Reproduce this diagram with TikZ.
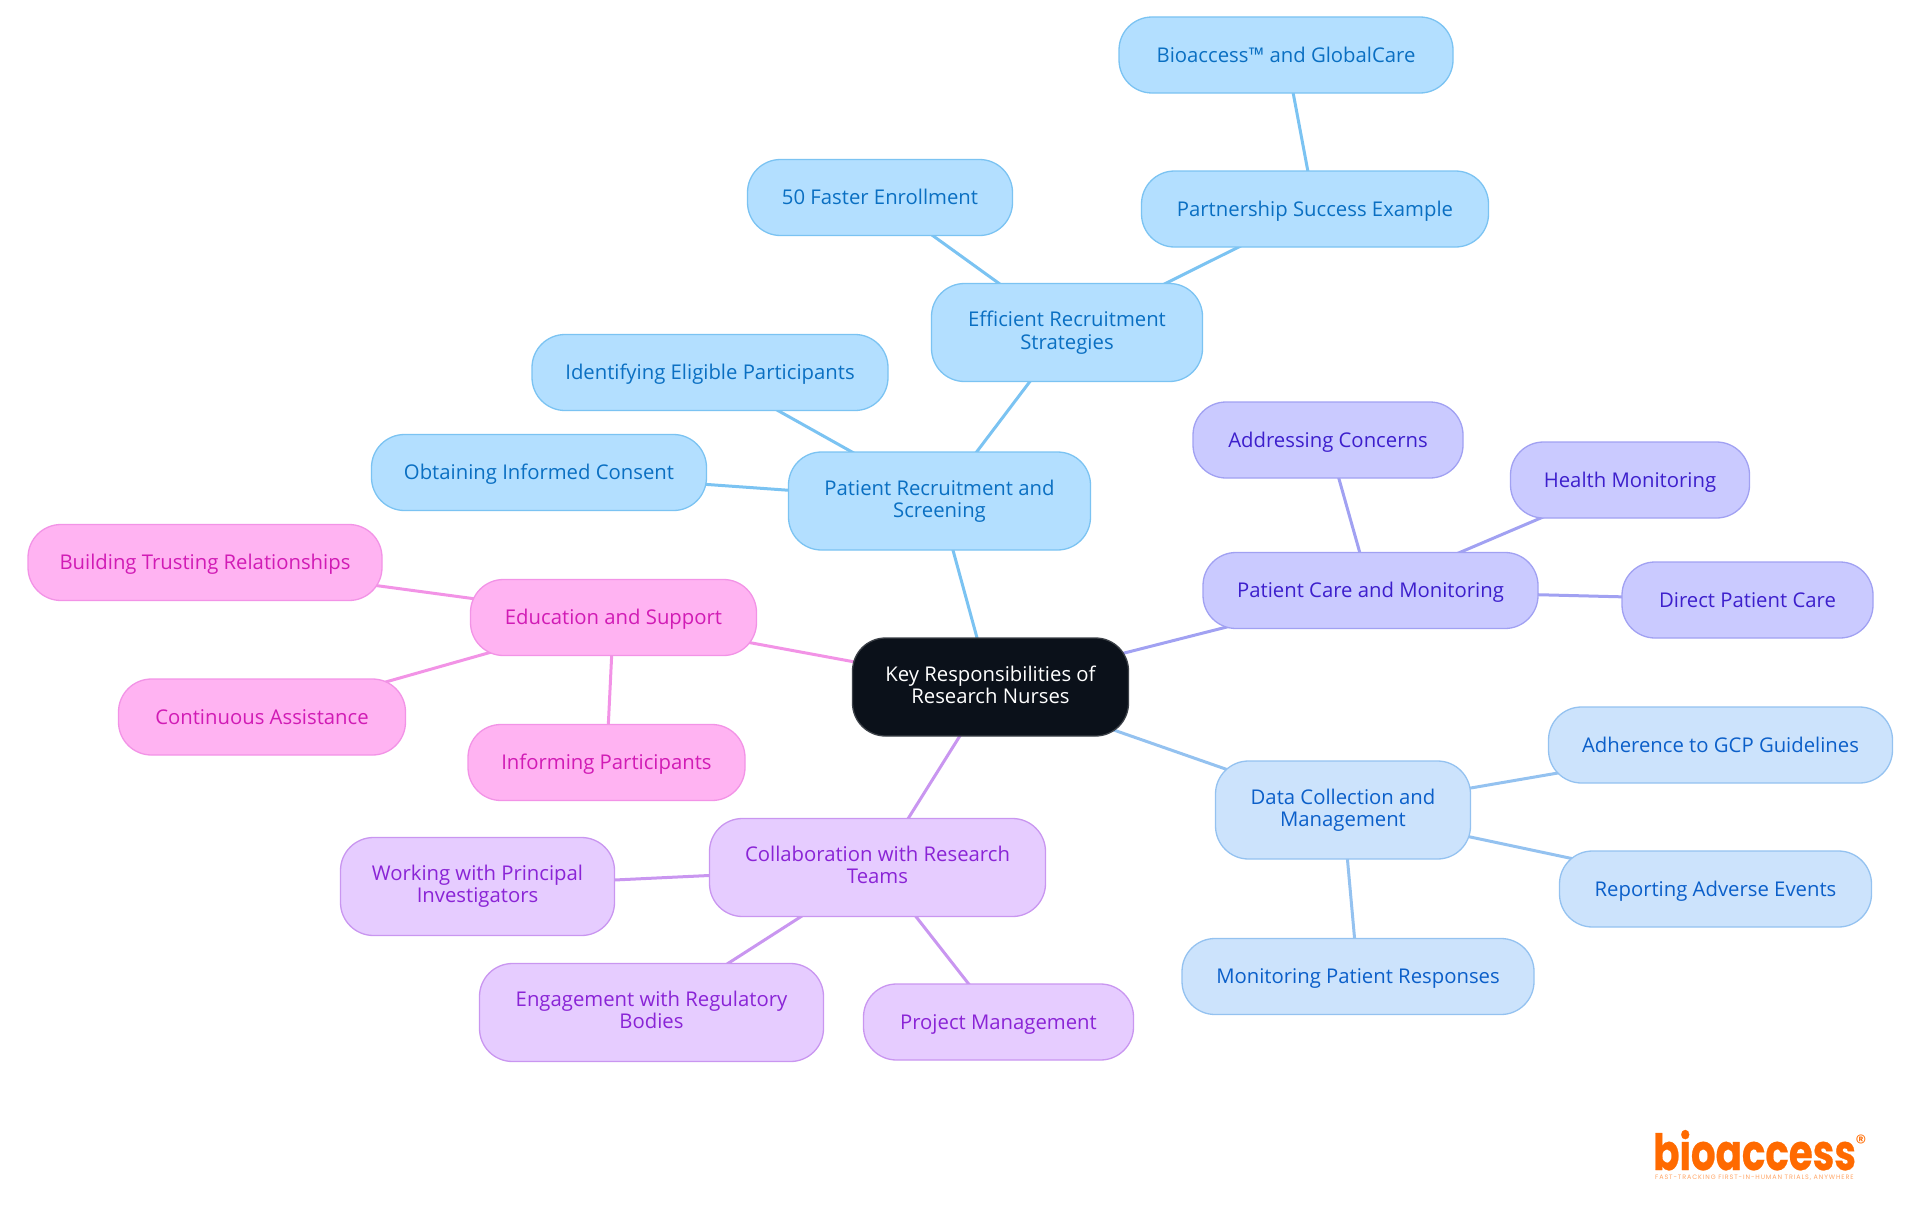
\documentclass[tikz,border=0pt]{standalone}
\usepackage{fontspec}
\setmainfont{Open Sans}
\newfontfamily\logofont[FakeStretch=0.775,FakeBold=0.5]{Poppins}
\newfontfamily\markfont{Poppins}
\newfontfamily\tagfont[LetterSpace=14]{Poppins}
\usetikzlibrary{backgrounds}
\definecolor{skyfill}{HTML}{B3DFFF}
\definecolor{skyline}{HTML}{7BC3F2}
\definecolor{skytext}{HTML}{0A6FC2}
\definecolor{indfill}{HTML}{CACAFF}
\definecolor{indline}{HTML}{A1A1F2}
\definecolor{indtext}{HTML}{3D1FCC}
\definecolor{palefill}{HTML}{CCE3FC}
\definecolor{paleline}{HTML}{94C2F0}
\definecolor{paletext}{HTML}{0B5FC9}
\definecolor{pinkfill}{HTML}{FFB3F2}
\definecolor{pinkline}{HTML}{F293E6}
\definecolor{pinktext}{HTML}{D11BB5}
\definecolor{violfill}{HTML}{E6CCFF}
\definecolor{violline}{HTML}{C996F0}
\definecolor{violtext}{HTML}{8A24D6}
\definecolor{rootfill}{HTML}{0B111A}
\definecolor{logoorange}{HTML}{FF6A00}
\tikzset{
  mapnode/.style={draw,rounded corners=33pt,line width=1.3pt,align=center,inner sep=0pt,
    minimum height=76pt,font=\fontsize{20.3}{22.4}\selectfont,
    execute at begin node={\rule{0pt}{19pt}},execute at end node={\vphantom{Ag}}},
  twoline/.style={minimum height=98pt,execute at begin node={\rule{0pt}{21.4pt}}},
  rootnode/.style={mapnode,fill=rootfill,draw=rootfill!80!white,text=white},
  skynode/.style={mapnode,fill=skyfill,draw=skyline,text=skytext},
  indnode/.style={mapnode,fill=indfill,draw=indline,text=indtext},
  palenode/.style={mapnode,fill=palefill,draw=paleline,text=paletext},
  pinknode/.style={mapnode,fill=pinkfill,draw=pinkline,text=pinktext},
  violnode/.style={mapnode,fill=violfill,draw=violline,text=violtext},
  skyedge/.style={draw=skyline,line width=3pt},
  indedge/.style={draw=indline,line width=3pt},
  paleedge/.style={draw=paleline,line width=3pt},
  pinkedge/.style={draw=pinkline,line width=3pt},
  violedge/.style={draw=violline,line width=3pt}
}
\begin{document}
\begin{tikzpicture}[x=1pt,y=-1pt]
\useasboundingbox (0,0) rectangle (1920,1215);

\node[rootnode,twoline,minimum width=276pt] (root) at (990.5,687) {Key Responsibilities of\\Research Nurses};

\node[skynode,twoline,minimum width=302pt] (recruit) at (939.5,501) {Patient Recruitment and\\Screening};
\node[skynode,twoline,minimum width=271pt] (strategies) at (1067,332.5) {Efficient Recruitment\\Strategies};
\node[skynode,minimum width=347pt] (partnership) at (1315,209) {Partnership Success Example};
\node[skynode,minimum width=334pt] (globalcare) at (1286,55) {Bioaccess™ and GlobalCare};
\node[skynode,minimum width=265pt] (faster) at (880,197.5) {50 Faster Enrollment};
\node[skynode,minimum width=356pt] (eligible) at (710,372.5) {Identifying Eligible Participants};
\node[skynode,minimum width=335pt] (consent) at (539,472.5) {Obtaining Informed Consent};

\node[indnode,minimum width=335pt] (care) at (1370.5,590.5) {Patient Care and Monitoring};
\node[indnode,minimum width=270pt] (concerns) at (1328,440) {Addressing Concerns};
\node[indnode,minimum width=239pt] (health) at (1630,480) {Health Monitoring};
\node[indnode,minimum width=251pt] (direct) at (1747.5,600) {Direct Patient Care};

\node[palenode,twoline,minimum width=255pt] (data) at (1343,810) {Data Collection and\\Management};
\node[palenode,minimum width=344pt] (gcp) at (1720.5,745) {Adherence to GCP Guidelines};
\node[palenode,minimum width=312pt] (adverse) at (1715.5,889) {Reporting Adverse Events};
\node[palenode,minimum width=352pt] (responses) at (1358,976.5) {Monitoring Patient Responses};

\node[pinknode,minimum width=286pt] (education) at (613.5,617.5) {Education and Support};
\node[pinknode,minimum width=354pt] (trusting) at (205,562.5) {Building Trusting Relationships};
\node[pinknode,minimum width=287pt] (assistance) at (262,717) {Continuous Assistance};
\node[pinknode,minimum width=277pt] (informing) at (606.5,762.5) {Informing Participants};

\node[violnode,twoline,minimum width=336pt] (teams) at (877.5,867.5) {Collaboration with Research\\Teams};
\node[violnode,twoline,minimum width=274pt] (investigators) at (477.5,886.5) {Working with Principal\\Investigators};
\node[violnode,twoline,minimum width=344pt] (regulatory) at (651.5,1012.5) {Engagement with Regulatory\\Bodies};
\node[violnode,minimum width=270pt] (project) at (998.5,1022) {Project Management};

% logo
\node[text=logoorange,inner sep=0pt,anchor=base west,font=\logofont\bfseries\fontsize{50}{50}\selectfont] (logo) at (1653,1170) {bioaccess};
\node[text=logoorange,inner sep=0pt,font=\markfont\fontsize{22}{22}\selectfont] (registered) at (1861,1143) {®};
\node[text=logoorange!60,inner sep=0pt,anchor=base west,font=\tagfont\fontsize{6.4}{7}\selectfont] (tagline) at (1655,1179) {FAST-TRACKING FIRST-IN-HUMAN TRIALS, ANYWHERE};

\begin{scope}[on background layer]
\path[skyedge] (root.center) -- (recruit.center);
\path[skyedge] (recruit.center) -- (strategies.center);
\path[skyedge] (recruit.center) -- (eligible.center);
\path[skyedge] (recruit.center) -- (consent.center);
\path[skyedge] (strategies.center) -- (partnership.center);
\path[skyedge] (strategies.center) -- (faster.center);
\path[skyedge] (partnership.center) -- (globalcare.center);
\path[indedge] (root.center) -- (care.center);
\path[indedge] (care.center) -- (concerns.center);
\path[indedge] (care.center) -- (health.center);
\path[indedge] (care.center) -- (direct.center);
\path[paleedge] (root.center) -- (data.center);
\path[paleedge] (data.center) -- (gcp.center);
\path[paleedge] (data.center) -- (adverse.center);
\path[paleedge] (data.center) -- (responses.center);
\path[pinkedge] (root.center) -- (education.center);
\path[pinkedge] (education.center) -- (trusting.center);
\path[pinkedge] (education.center) -- (assistance.center);
\path[pinkedge] (education.center) -- (informing.center);
\path[violedge] (root.center) -- (teams.center);
\path[violedge] (teams.center) -- (investigators.center);
\path[violedge] (teams.center) -- (regulatory.center);
\path[violedge] (teams.center) -- (project.center);
\end{scope}
\end{tikzpicture}
\end{document}
